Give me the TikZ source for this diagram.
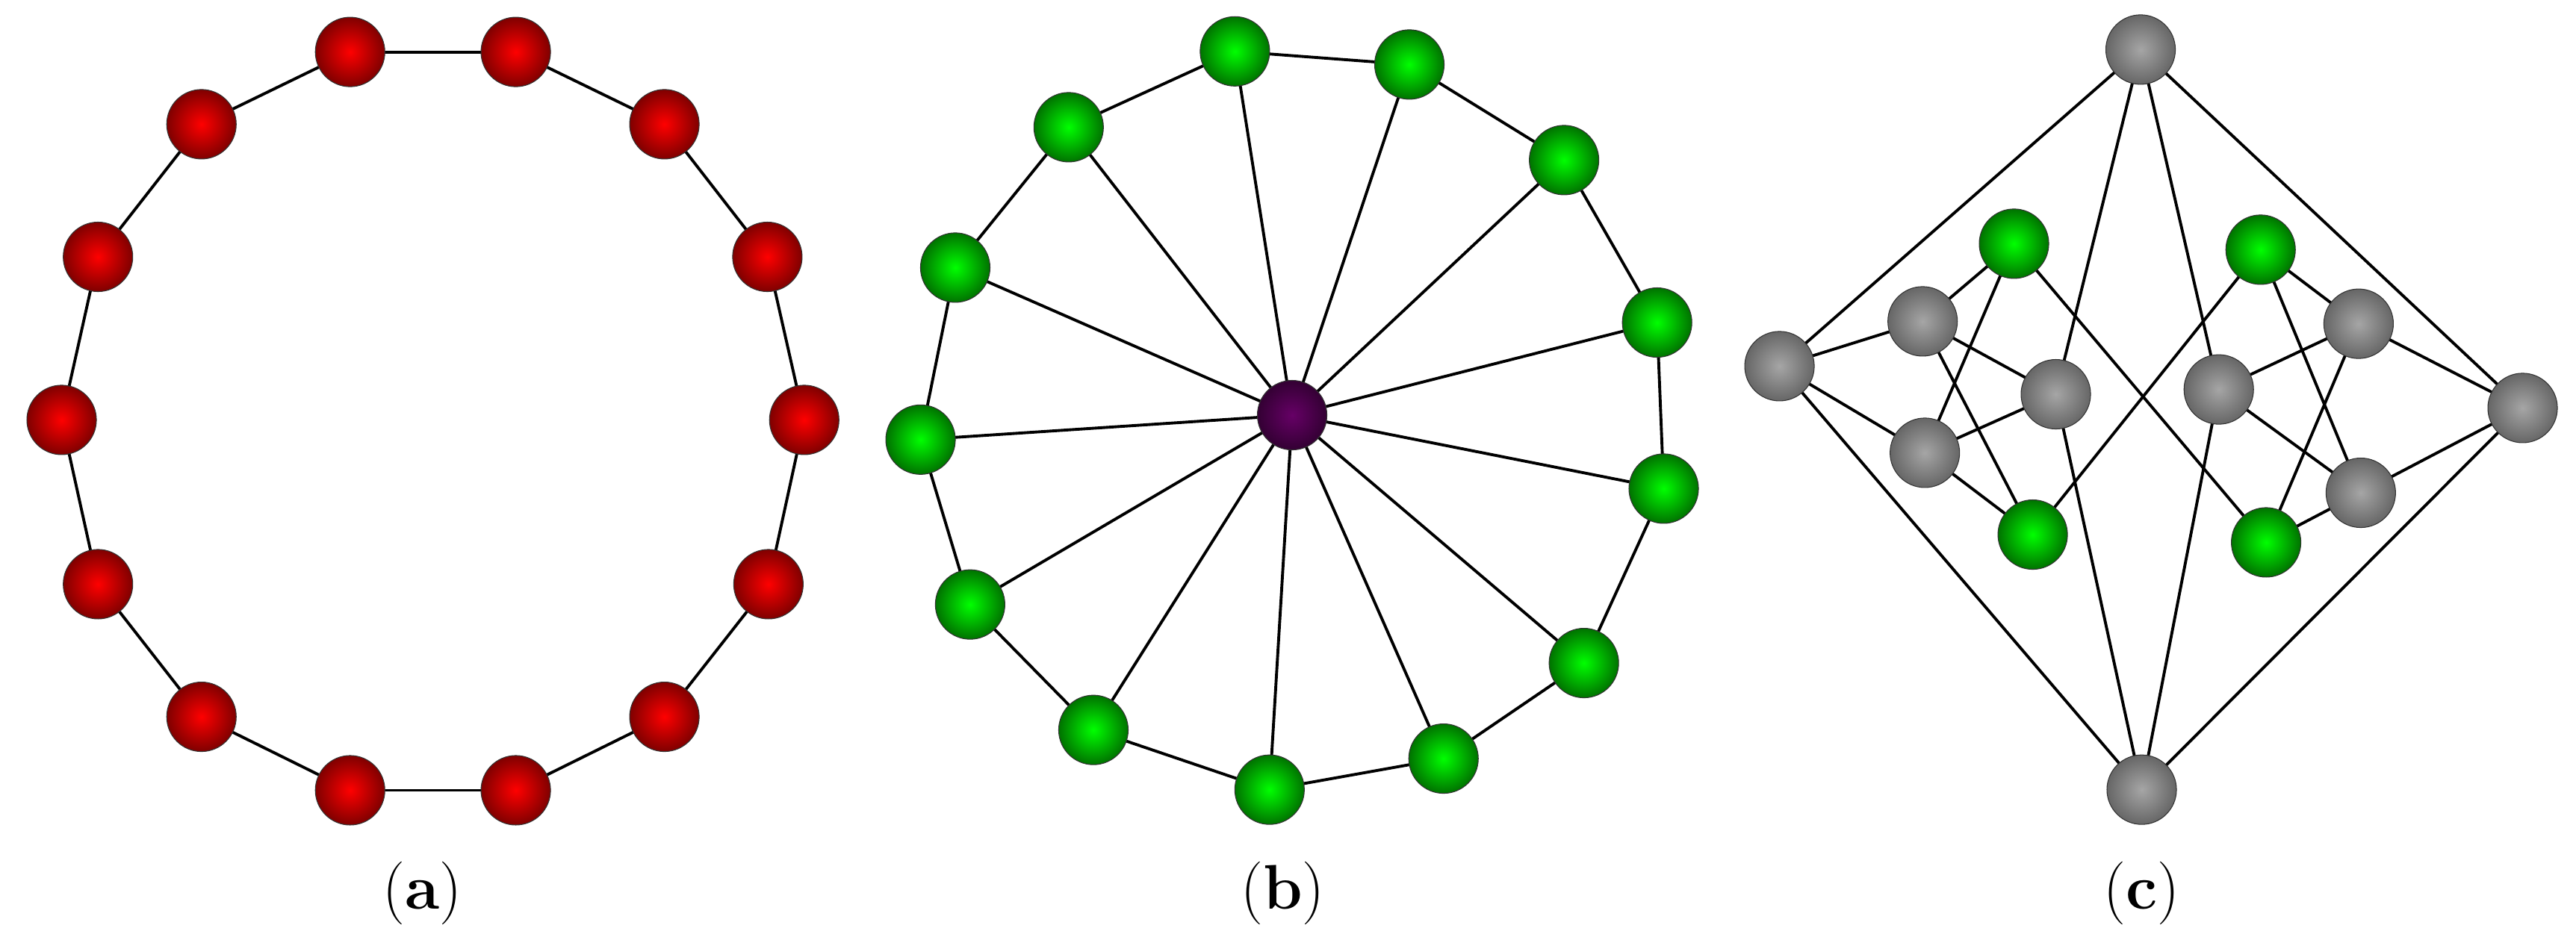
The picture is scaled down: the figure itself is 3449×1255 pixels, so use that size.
\documentclass[tikz,border=0pt]{standalone}
\begin{document}
\begin{tikzpicture}[x=0.01cm,y=-0.01cm,
  ball/.style={circle,minimum size=0.93cm,inner sep=0pt,draw=black!80,line width=0.3pt,shading=radial},
  rb/.style={ball,inner color=red,outer color=red!50!black},
  gb/.style={ball,inner color=green,outer color=green!45!black},
  yb/.style={ball,inner color=gray!70,outer color=black!60},
  pb/.style={ball,inner color=violet!80!black,outer color=violet!40!black},
  edge/.style={draw=black,line width=1.1pt},
  lab/.style={font=\fontsize{24}{28}\selectfont}]
\useasboundingbox (0,0) rectangle (3449,1255);
% (a)
\begin{scope}[xscale=0.737,yscale=0.8]
\foreach \i/\x/\y in {1/636/87,2/937/87,3/1207/208,4/1394/430,5/1461/703,6/1396/978,7/1207/1200,8/937/1323,9/636/1323,10/366/1200,11/178/978,12/112/703,13/178/430,14/366/208}
  \coordinate (a\i) at (\x,\y);
\foreach \i [evaluate=\i as \j using {int(mod(\i,14)+1)}] in {1,...,14}
  \draw[edge] (a\i) -- (a\j);
\foreach \i in {1,...,14} \node[rb] (na\i) at (a\i) {};
\node[lab] (la) at (767,1496) {(\textbf{a})};
\end{scope}
% (b)
\begin{scope}[shift={(1150,0)},xscale=0.737,yscale=0.8]
\foreach \i/\x/\y in {1/683/86,2/1000/108,3/1281/268,4/1450/540,5/1462/818,6/1317/1110,7/1062/1270,8/746/1322,9/426/1222,10/202/1012,11/112/736,12/175/448,13/381/213}
  \coordinate (b\i) at (\x,\y);
\coordinate (bc) at (787,695);
\foreach \i [evaluate=\i as \j using {int(mod(\i,13)+1)}] in {1,...,13}
  \draw[edge] (b\i) -- (b\j) (b\i) -- (bc);
\foreach \i in {1,...,13} \node[gb] (nb\i) at (b\i) {};
\node[pb] (nbc) at (bc) {};
\node[lab] (lb) at (770,1496) {(\textbf{b})};
\end{scope}
% (c)
\begin{scope}[shift={(2300,0)},xscale=0.737,yscale=0.8]
\coordinate (T) at (768,83); \coordinate (L) at (112,613);
\coordinate (R) at (1462,683); \coordinate (B) at (770,1322);
\coordinate (g1) at (372,538); \coordinate (g2) at (614,660); \coordinate (g3) at (376,758);
\coordinate (G1) at (538,408); \coordinate (G2) at (572,895);
\coordinate (h1) at (910,652); \coordinate (h2) at (1164,542); \coordinate (h3) at (1168,825);
\coordinate (G3) at (986,418); \coordinate (G4) at (996,908);
\foreach \p/\q in {T/L,T/R,T/g2,T/h1,B/L,B/R,B/g2,B/h1,L/g1,L/g3,R/h2,R/h3,
  g1/G1,g1/g2,g1/G2,g3/G1,g3/g2,g3/G2,G1/G4,G2/G3,G3/h2,G3/h3,G4/h2,G4/h3,h1/h2,h1/h3}
  \draw[edge] (\p) -- (\q);
\foreach \n in {T,L,R,B,g1,g2,g3,h1,h2,h3} \node[yb] (n\n) at (\n) {};
\foreach \n in {G1,G2,G3,G4} \node[gb] (n\n) at (\n) {};
\node[lab] (lc) at (770,1496) {(\textbf{c})};
\end{scope}
\end{tikzpicture}
\end{document}
